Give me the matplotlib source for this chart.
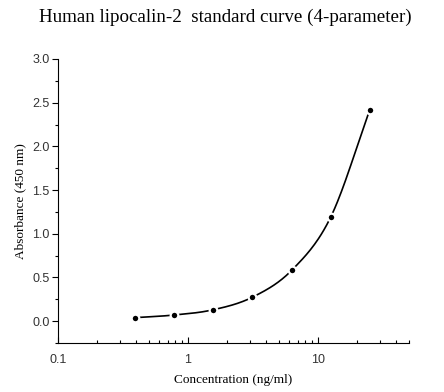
import matplotlib

matplotlib.use("Agg")
import matplotlib.pyplot as plt
import numpy as np
from matplotlib.ticker import FixedLocator, LogLocator, NullFormatter

# standard curve points
conc = [0.39, 0.78, 1.56, 3.125, 6.25, 12.5, 25.0]
absorb = [0.04, 0.07, 0.13, 0.274, 0.58, 1.19, 2.42]

x_ticks = [0.1, 1, 10]
x_tick_labels = ["0.1", "1", "10"]
y_ticks = [0.0, 0.5, 1.0, 1.5, 2.0, 2.5, 3.0]
y_tick_labels = ["0.0", "0.5", "1.0", "1.5", "2.0", "2.5", "3.0"]


def smooth_through(xs, ys, n=30):
    """Catmull-Rom style cubic Hermite through the points, in log-x space."""
    lx = np.log10(xs)
    ys = np.asarray(ys, float)
    m = np.gradient(ys, lx)
    out_x, out_y = [], []
    for i in range(len(lx) - 1):
        h = lx[i + 1] - lx[i]
        t = np.linspace(0, 1, n)
        h00 = 2 * t**3 - 3 * t**2 + 1
        h10 = t**3 - 2 * t**2 + t
        h01 = -2 * t**3 + 3 * t**2
        h11 = t**3 - t**2
        yy = h00 * ys[i] + h10 * h * m[i] + h01 * ys[i + 1] + h11 * h * m[i + 1]
        out_x.append(10 ** (lx[i] + t * h))
        out_y.append(yy)
    return np.concatenate(out_x), np.concatenate(out_y)


fig = plt.figure(figsize=(4.44, 3.92), dpi=100)
ax = fig.add_axes([0.1306, 0.125, 0.7905, 0.7245])

cx, cy = smooth_through(conc, absorb)
ax.plot(cx, cy, color="black", linewidth=1.2, zorder=2)
ax.plot(conc, absorb, linestyle="none", marker="o", markersize=5.5,
        markerfacecolor="black", markeredgecolor="white", markeredgewidth=1.6,
        zorder=3)

ax.set_xscale("log")
ax.set_xlim(0.1, 50)
ax.set_ylim(-0.25, 3.0)

ax.spines["top"].set_visible(False)
ax.spines["right"].set_visible(False)

ax.set_xticks(x_ticks)
ax.set_xticklabels(x_tick_labels)
ax.xaxis.set_minor_locator(LogLocator(base=10, subs=np.arange(2, 10)))
ax.xaxis.set_minor_formatter(NullFormatter())
ax.set_yticks(y_ticks)
ax.set_yticklabels(y_tick_labels)
ax.yaxis.set_minor_locator(FixedLocator(np.arange(-0.25, 3.0, 0.5)))

ax.tick_params(axis="x", which="major", direction="in", length=4, width=0.8,
               labelsize=9, pad=8)
ax.tick_params(axis="x", which="minor", direction="in", length=2.5, width=0.8)
ax.tick_params(axis="y", which="major", direction="out", length=4, width=0.8,
               labelsize=9, pad=2)
ax.tick_params(axis="y", which="minor", direction="out", length=2, width=0.8)
for lab in ax.get_xticklabels() + ax.get_yticklabels():
    lab.set_family("Liberation Sans")
    lab.set_color("#333333")

ax.set_xlabel("Concentration (ng/ml)", family="Liberation Serif", fontsize=9.5,
              labelpad=6)
ax.set_ylabel("Absorbance (450 nm)", family="Liberation Serif", fontsize=9.5,
              labelpad=4)

fig.text(0.507, 0.955, "Human lipocalin-2  standard curve (4-parameter)",
         ha="center", va="center", family="Liberation Serif", fontsize=13.7)

fig.savefig("out.png", dpi=100)
plt.close(fig)
